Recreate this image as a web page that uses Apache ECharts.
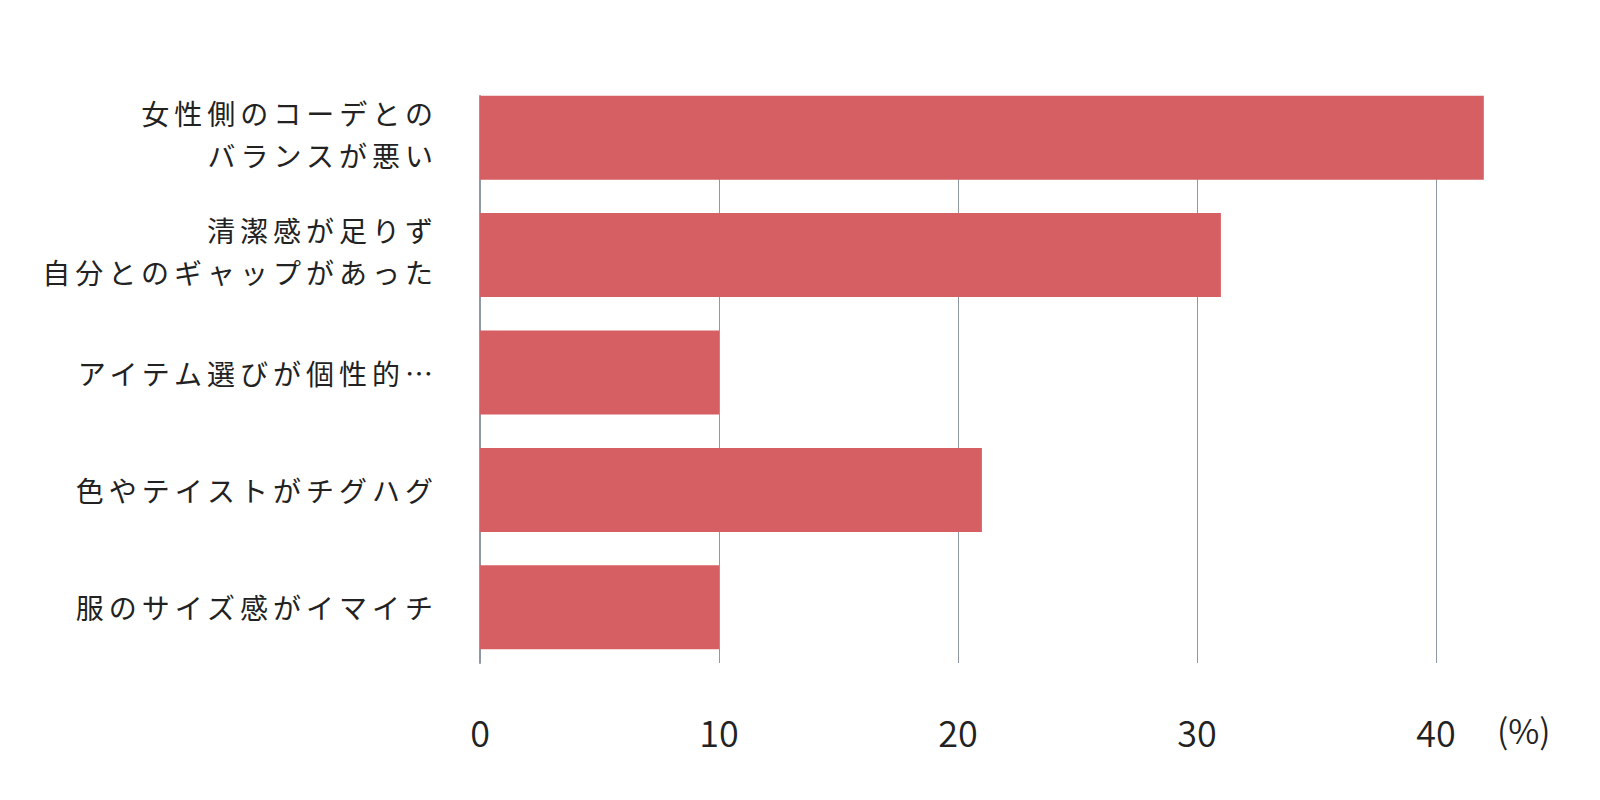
<!DOCTYPE html>
<html>
<head>
<meta charset="utf-8">
<script src="https://cdn.jsdelivr.net/npm/echarts@6/dist/echarts.min.js"></script>
<style>
  html, body { margin: 0; padding: 0; background: #ffffff; }
  #chart { width: 1600px; height: 800px; }
</style>
</head>
<body>
<div id="chart"></div>
<script>
const categories = [
  '女性側のコーデとの\nバランスが悪い',
  '清潔感が足りず\n自分とのギャップがあった',
  'アイテム選びが個性的…',
  '色やテイストがチグハグ',
  '服のサイズ感がイマイチ'
];
const values = [42, 31, 10, 21, 10];
const axisMin = 0;
const axisMax = 40;
const axisInterval = 10;
const unitLabel = '(%)';

const barColor = '#d65f64';
const gridColor = '#8f98a6';
const textColor = '#222222';
const cjkFont = '"Noto Sans CJK JP", "Noto Sans", sans-serif';

const chart = echarts.init(document.getElementById('chart'), null, { renderer: 'svg' });
chart.setOption({
  animation: false,
  backgroundColor: '#ffffff',
  grid: [
    { left: 480, right: 164, top: 79, bottom: 134 },
    { left: 480, right: 164, top: 96, bottom: 137 }
  ],
  graphic: [
    {
      type: 'text', left: 1497, top: 712, silent: true,
      style: { text: unitLabel, fill: textColor, fontSize: 34, fontWeight: 350, fontFamily: cjkFont }
    }
  ],
  xAxis: [
    {
      gridIndex: 0, type: 'value', min: axisMin, max: axisMax, interval: axisInterval,
      axisLine: { show: false }, axisTick: { show: false },
      axisLabel: { show: false }, splitLine: { show: false }
    },
    {
      gridIndex: 1, type: 'value', min: axisMin, max: axisMax, interval: axisInterval,
      axisLine: { show: false }, axisTick: { show: false },
      splitLine: { show: true, lineStyle: { color: gridColor, width: 1 } },
      axisLabel: {
        show: true, color: textColor, fontSize: 36, lineHeight: 36, fontWeight: 350,
        fontFamily: cjkFont, margin: 50
      }
    }
  ],
  yAxis: [
    {
      gridIndex: 0, type: 'category', inverse: true, data: categories,
      axisLine: { show: false }, axisTick: { show: false },
      splitLine: { show: false },
      axisLabel: {
        show: true, interval: 0, color: textColor, fontSize: 28, lineHeight: 42,
        fontFamily: cjkFont, margin: 42, align: 'right',
        formatter: function (v) {
          const lines = v.split('\n');
          const body = lines.map(s => '{t|' + s + '}').join('\n');
          return lines.length > 1 ? body + '\n{s| }' : body;
        },
        rich: {
          t: { color: textColor, fontSize: 28, lineHeight: 42, fontFamily: cjkFont },
          s: { fontSize: 4, lineHeight: 8 }
        }
      }
    },
    {
      gridIndex: 1, type: 'value', min: 0, max: 1,
      axisLine: { show: true, onZero: false, lineStyle: { color: gridColor, width: 2 } },
      axisTick: { show: false }, axisLabel: { show: false }, splitLine: { show: false }
    }
  ],
  series: [
    {
      type: 'bar',
      xAxisIndex: 0, yAxisIndex: 0,
      data: values,
      barWidth: 84,
      clip: false,
      silent: true,
      itemStyle: { color: barColor }
    }
  ]
});

function spaceCJK() {
  const texts = document.querySelectorAll('#chart svg text');
  texts.forEach(t => {
    if (/[\u3000-\u9fff\uff00-\uffef\u2026]/.test(t.textContent)) {
      t.setAttribute('letter-spacing', '5');
      t.style.letterSpacing = '5px';
    }
  });
}
spaceCJK();
chart.on('finished', spaceCJK);
setTimeout(spaceCJK, 0);
setTimeout(spaceCJK, 100);
</script>
</body>
</html>
